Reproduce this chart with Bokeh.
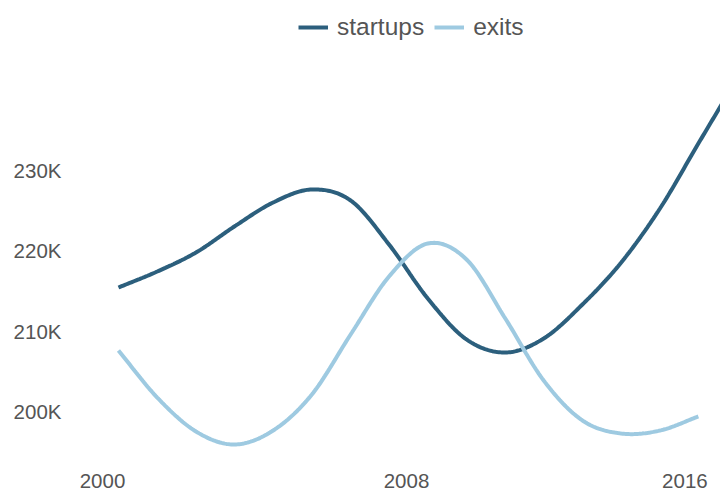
import numpy as np
from bokeh.plotting import figure
from bokeh.models import Range1d, FixedTicker, Legend, LegendItem, LinearAxis
from bokeh.embed import file_html
from bokeh.resources import INLINE

# ---- data ----
years = [2000.42, 2001.44, 2002.46, 2003.47, 2004.49, 2005.51, 2006.53, 2007.54, 2008.56,
         2009.58, 2010.60, 2011.61, 2012.63, 2013.65, 2014.67, 2015.68, 2016.70]
startups = [215440, 217430, 219800, 223040, 226030, 227650, 226280, 220800, 214070,
            208970, 207350, 209090, 213330, 218560, 225280, 233370, 241470]
exits = [207600, 201740, 197510, 195890, 197630, 202120, 209590, 216810, 220920,
         218930, 211580, 203860, 198880, 197260, 197630, 199380]

x_ticks = [2000, 2008, 2016]
x_tick_labels = ["2000", "2008", "2016"]
y_ticks = [200000, 210000, 220000, 230000]
y_tick_labels = ["200K", "210K", "220K", "230K"]

DARK = "#2c5f7d"
LIGHT = "#9ecae1"
TEXT = "#555555"
FONT = "Liberation Sans"
AX_FS = "20.5px"


def smooth(xs, ys, n=24):
    """Catmull-Rom (cardinal, tension 0) rendering of a line through the points."""
    x = np.asarray(xs, float)
    y = np.asarray(ys, float)
    h = np.diff(x)
    m = np.zeros_like(y)
    m[1:-1] = (y[2:] - y[:-2]) / (x[2:] - x[:-2])
    m[0] = (y[1] - y[0]) / h[0]
    m[-1] = (y[-1] - y[-2]) / h[-1]
    ox, oy = [], []
    t = np.linspace(0, 1, n, endpoint=False)
    h00 = 2 * t**3 - 3 * t**2 + 1
    h10 = t**3 - 2 * t**2 + t
    h01 = -2 * t**3 + 3 * t**2
    h11 = t**3 - t**2
    for i in range(len(x) - 1):
        ox.extend(x[i] + t * h[i])
        oy.extend(h00 * y[i] + h10 * h[i] * m[i] + h01 * y[i + 1] + h11 * h[i] * m[i + 1])
    ox.append(x[-1])
    oy.append(y[-1])
    return ox, oy


p = figure(width=720, height=490, output_backend="svg", toolbar_location=None,
           x_range=Range1d(1999.158, 2016.263), y_range=Range1d(194270, 250190),
           min_border_left=70, min_border_right=0, min_border_top=8, min_border_bottom=30)
p.outline_line_color = None
p.xgrid.visible = False
p.ygrid.visible = False

sx, sy = smooth(years, startups)
ex, ey = smooth(years[:len(exits)], exits)
r1 = p.line(sx, sy, line_color=DARK, line_width=4)
r2 = p.line(ex, ey, line_color=LIGHT, line_width=4)

# second x axis carrying only the last tick, right-aligned so it stays on the page
ax2 = LinearAxis(ticker=FixedTicker(ticks=x_ticks[2:]),
                 major_label_overrides={x_ticks[2]: x_tick_labels[2]})
p.add_layout(ax2, "below")

for ax in (p.xaxis[0], p.yaxis[0], ax2):
    ax.axis_line_color = None
    ax.major_tick_line_color = None
    ax.minor_tick_line_color = None
    ax.major_label_text_font = FONT
    ax.major_label_text_font_size = AX_FS
    ax.major_label_text_color = TEXT

ax2.major_label_text_align = "right"
ax2.major_label_standoff = -23

p.xaxis[0].ticker = FixedTicker(ticks=x_ticks[:2])
p.xaxis[0].major_label_overrides = {t: l for t, l in zip(x_ticks[:2], x_tick_labels[:2])}
p.xaxis[0].major_label_standoff = 10
p.yaxis[0].ticker = FixedTicker(ticks=y_ticks)
p.yaxis[0].major_label_overrides = {t: l for t, l in zip(y_ticks, y_tick_labels)}
p.yaxis[0].major_label_standoff = 3

legend = Legend(items=[LegendItem(label="startups", renderers=[r1]),
                       LegendItem(label="exits", renderers=[r2])],
                orientation="horizontal", location=(228, 416),
                glyph_width=30, glyph_height=20, label_standoff=9, spacing=10,
                padding=0, margin=0, border_line_color=None, background_fill_alpha=0,
                label_text_font=FONT, label_text_font_size="24.5px", label_text_color=TEXT)
p.add_layout(legend)

open("out.html", "w").write(file_html(p, INLINE))
